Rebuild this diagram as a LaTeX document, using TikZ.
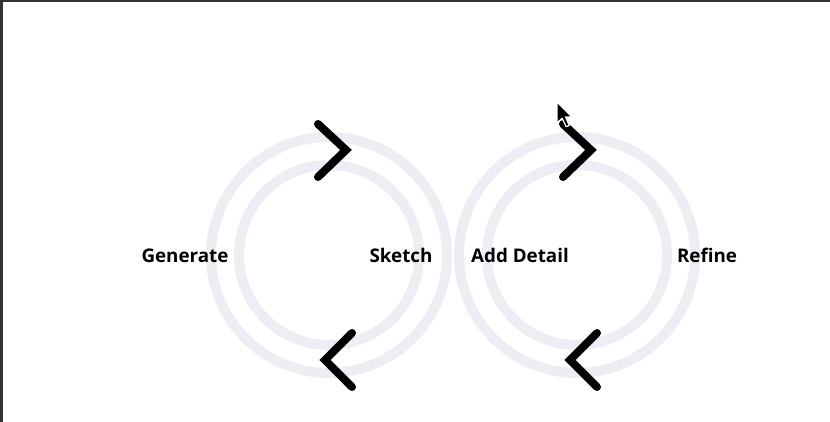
\documentclass[tikz,border=0pt]{standalone}
\usepackage{fontspec}
\setmainfont{Open Sans}
\begin{document}
\begin{tikzpicture}[x=1pt,y=-1pt]
\definecolor{ring}{HTML}{EDEDF4}
\definecolor{frame}{HTML}{333333}
\tikzset{
  ringline/.style={draw=ring, line width=10pt},
  chev/.style={draw=black, line width=8pt, line cap=round, line join=miter},
  lbl/.style={font=\bfseries\fontsize{18.8}{21}\selectfont, inner sep=0pt, anchor=base}
}
\useasboundingbox (0,0) rectangle (830,422);
\fill[white] (0,0) rectangle (830,422);
\fill[frame] (0,0) rectangle (3,422);
\fill[frame] (0,0) rectangle (830,2);
% rings
\coordinate (cl) at (329,255);
\coordinate (cr) at (577,255);
\draw[ringline] (cl) circle[radius=118];
\draw[ringline] (cl) circle[radius=90];
\draw[ringline] (cr) circle[radius=118];
\draw[ringline] (cr) circle[radius=90];
% chevrons
\draw[chev] (318,124) -- (346,150) -- (318,177);
\draw[chev] (352,333) -- (325,360) -- (352,387);
\draw[chev] (563,124) -- (591,150) -- (563,177);
\draw[chev] (597,333) -- (570,360) -- (597,387);
% labels
\node[lbl] (gen) at (185,262) {Generate};
\node[lbl] (sk) at (401,262) {Sketch};
\node[lbl] (ad) at (520,262) {Add Detail};
\node[lbl] (ref) at (707,262) {Refine};
% cursor
\begin{scope}[shift={(557,102)}, scale=1.3]
\draw[fill=black, draw=white, line width=1.2pt, line join=round]
  (0,0) -- (0,16) -- (4,12.5) -- (7,19) -- (9.5,18) -- (6.5,11.5) -- (11.5,11.5) -- cycle;
\end{scope}
\end{tikzpicture}
\end{document}
